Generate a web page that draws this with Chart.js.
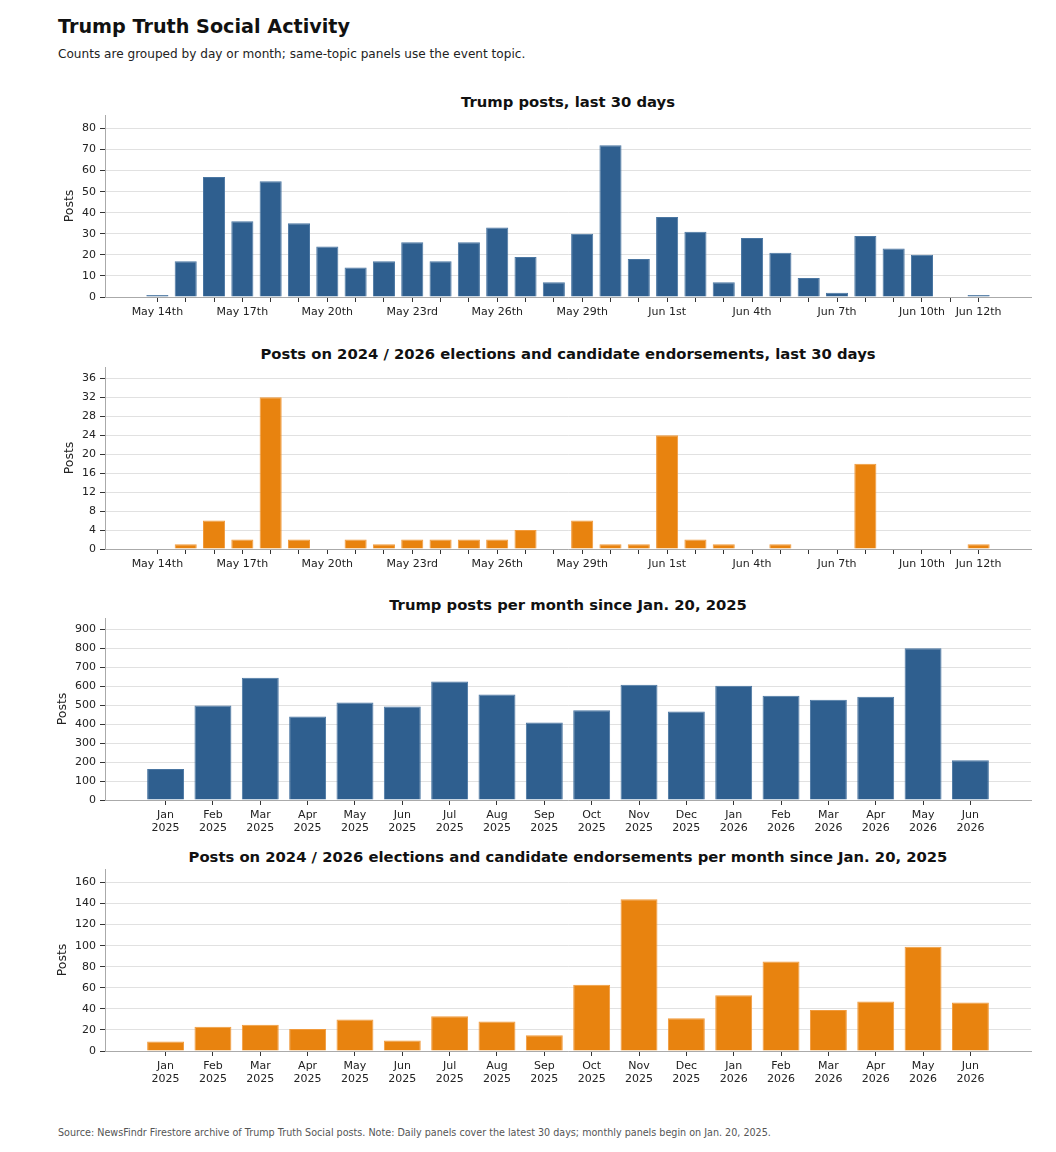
<!DOCTYPE html>
<html>
<head>
<meta charset="utf-8">
<script src="https://cdn.jsdelivr.net/npm/chart.js@4.4.1/dist/chart.umd.min.js"></script>
<style>
  body { margin: 0; background: #fff; font-family: "DejaVu Sans", sans-serif; color: #111; }
  #page { position: relative; width: 1056px; height: 1152px; overflow: hidden; }
  .abs { position: absolute; white-space: nowrap; }
  #mainTitle { left: 58px; top: 17px; font-size: 19.2px; font-weight: bold; line-height: 19px; }
  #subTitle { left: 58px; top: 48px; font-size: 12.1px; line-height: 13px; color: #222; }
  .panelTitle { left: 105px; width: 926px; text-align: center; font-size: 14.8px; font-weight: bold; line-height: 15px; }
  #footer { left: 58px; top: 1128px; font-size: 9.6px; line-height: 10px; color: #555; }
  canvas { position: absolute; left: 0; }
</style>
</head>
<body>
<div id="page">
  <div id="mainTitle" class="abs">Trump Truth Social Activity</div>
  <div id="subTitle" class="abs">Counts are grouped by day or month; same-topic panels use the event topic.</div>

  <div class="abs panelTitle" style="top:94px">Trump posts, last 30 days</div>
  <canvas id="dailyPostsChart" width="1056" height="247" style="top:95px"></canvas>

  <div class="abs panelTitle" style="top:346px">Posts on 2024 / 2026 elections and candidate endorsements, last 30 days</div>
  <canvas id="dailyElectionChart" width="1056" height="247" style="top:347px"></canvas>

  <div class="abs panelTitle" style="top:597px">Trump posts per month since Jan. 20, 2025</div>
  <canvas id="monthlyPostsChart" width="1056" height="247" style="top:598px"></canvas>

  <div class="abs panelTitle" style="top:849px">Posts on 2024 / 2026 elections and candidate endorsements per month since Jan. 20, 2025</div>
  <canvas id="monthlyElectionChart" width="1056" height="247" style="top:849px"></canvas>

  <div id="footer" class="abs">Source: NewsFindr Firestore archive of Trump Truth Social posts. Note: Daily panels cover the latest 30 days; monthly panels begin on Jan. 20, 2025.</div>
</div>

<script>
// daily panels: last 30 days
const dayCategories = [
    'May 14th', 'May 15th', 'May 16th', 'May 17th', 'May 18th', 'May 19th', 'May 20th', 'May 21st',
    'May 22nd', 'May 23rd', 'May 24th', 'May 25th', 'May 26th', 'May 27th', 'May 28th', 'May 29th',
    'May 30th', 'May 31st', 'Jun 1st', 'Jun 2nd', 'Jun 3rd', 'Jun 4th', 'Jun 5th', 'Jun 6th',
    'Jun 7th', 'Jun 8th', 'Jun 9th', 'Jun 10th', 'Jun 11th', 'Jun 12th'
];
const dayTickLabels = ['May 14th', 'May 17th', 'May 20th', 'May 23rd', 'May 26th', 'May 29th',
    'Jun 1st', 'Jun 4th', 'Jun 7th', 'Jun 10th', 'Jun 12th'];
const dailyPosts = [1, 17, 57, 36, 55, 35, 24, 14, 17, 26, 17, 26, 33, 19, 7, 30, 72, 18, 38, 31,
    7, 28, 21, 9, 2, 29, 23, 20, 0, 1];
const dailyElection = [0, 1, 6, 2, 32, 2, 0, 2, 1, 2, 2, 2, 2, 4, 0, 6, 1, 1, 24, 2,
    1, 0, 1, 0, 0, 18, 0, 0, 0, 1];

// monthly panels: since Jan. 20, 2025
const monthCategories = [
    ['Jan', '2025'], ['Feb', '2025'], ['Mar', '2025'], ['Apr', '2025'], ['May', '2025'], ['Jun', '2025'],
    ['Jul', '2025'], ['Aug', '2025'], ['Sep', '2025'], ['Oct', '2025'], ['Nov', '2025'], ['Dec', '2025'],
    ['Jan', '2026'], ['Feb', '2026'], ['Mar', '2026'], ['Apr', '2026'], ['May', '2026'], ['Jun', '2026']
];
const monthlyPosts = [163, 498, 645, 441, 514, 493, 625, 556, 409, 474, 608, 467, 603, 550, 529, 545, 800, 210];
const monthlyElection = [9, 23, 25, 21, 30, 10, 33, 28, 15, 63, 144, 31, 53, 85, 39, 47, 99, 46];

// y tick values
const dailyPostsTicks = [0, 10, 20, 30, 40, 50, 60, 70, 80];
const dailyElectionTicks = [0, 4, 8, 12, 16, 20, 24, 28, 32, 36];
const monthlyPostsTicks = [0, 100, 200, 300, 400, 500, 600, 700, 800, 900];
const monthlyElectionTicks = [0, 20, 40, 60, 80, 100, 120, 140, 160];

const BLUE = '#2f5f8f';
const BLUE_EDGE = '#4a76a2';
const ORANGE = '#e8830f';
const ORANGE_EDGE = '#f19a3c';

Chart.defaults.font.family = '"DejaVu Sans", sans-serif';
Chart.defaults.color = '#333';

function drawPanel(canvasId, categories, values, yTicks, fill, edge, pad, yAxisWidth, tickLabelFor) {
    const canvas = document.getElementById(canvasId);
    const ctx = canvas.getContext('2d');
    const last = categories.length - 1;

    return new Chart(ctx, {
        type: 'bar',
        data: {
            datasets: [{
                data: values.map((v, i) => ({ x: i, y: v })),
                backgroundColor: fill,
                borderColor: edge,
                borderWidth: 1,
                barPercentage: 0.78,
                categoryPercentage: 1
            }]
        },
        options: {
            responsive: false,
            animation: false,
            layout: { padding: { top: 20, left: 105 - yAxisWidth, right: 25, bottom: 0 } },
            plugins: { legend: { display: false }, tooltip: { enabled: false } },
            scales: {
                x: {
                    type: 'linear',
                    min: -pad,
                    max: last + pad,
                    offset: false,
                    z: 1,
                    afterBuildTicks: axis => { axis.ticks = categories.map((_, i) => ({ value: i })); },
                    afterFit: axis => { axis.height = 45; },
                    grid: { drawOnChartArea: false, offset: false, tickColor: '#333', tickLength: 5 },
                    border: { color: '#aaa', width: 1 },
                    ticks: {
                        autoSkip: false,
                        maxRotation: 0,
                        minRotation: 0,
                        padding: 4,
                        color: '#222',
                        font: { size: 11, lineHeight: 1.15 },
                        callback: value => tickLabelFor(categories[value])
                    }
                },
                y: {
                    min: 0,
                    max: Math.max(...values) * 1.2,
                    z: 1,
                    afterBuildTicks: axis => { axis.ticks = yTicks.map(v => ({ value: v })); },
                    afterFit: axis => { axis.width = yAxisWidth; },
                    grid: { color: 'rgba(200,200,200,0.55)', tickColor: '#333', tickLength: 5 },
                    border: { color: '#aaa', width: 1 },
                    ticks: { padding: 4, color: '#222', font: { size: 11 } },
                    title: { display: true, text: 'Posts', color: '#222', font: { size: 12.5 }, padding: { top: 4, bottom: 4 } }
                }
            }
        }
    });
}

const dayLabel = name => dayTickLabels.includes(name) ? name : '';
const monthLabel = pair => pair;

drawPanel('dailyPostsChart', dayCategories, dailyPosts, dailyPostsTicks, BLUE, BLUE_EDGE, 1.85, 47, dayLabel);
drawPanel('dailyElectionChart', dayCategories, dailyElection, dailyElectionTicks, ORANGE, ORANGE_EDGE, 1.85, 47, dayLabel);
drawPanel('monthlyPostsChart', monthCategories, monthlyPosts, monthlyPostsTicks, BLUE, BLUE_EDGE, 1.28, 54, monthLabel);
drawPanel('monthlyElectionChart', monthCategories, monthlyElection, monthlyElectionTicks, ORANGE, ORANGE_EDGE, 1.28, 54, monthLabel);
</script>
</body>
</html>
